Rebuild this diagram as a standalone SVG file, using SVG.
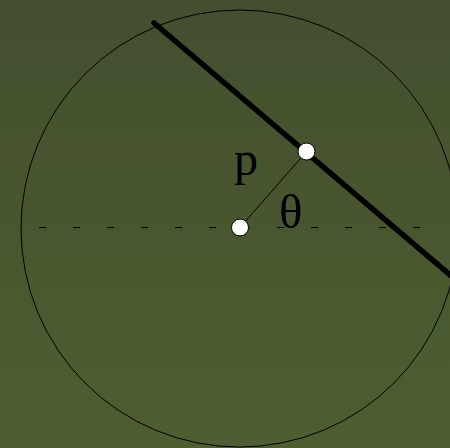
<svg xmlns="http://www.w3.org/2000/svg" width="450" height="448" viewBox="0 0 450 448">
<defs>
<linearGradient id="bg" x1="0" y1="0" x2="0" y2="1">
<stop offset="0" stop-color="#434f2e"/>
<stop offset="1" stop-color="#4e5e31"/>
</linearGradient>
<style>
.lbl{font-family:"Liberation Serif","Times New Roman",serif;fill:#000}
.pt{fill:#fff;stroke:#000;stroke-width:1}
</style>
</defs>
<rect width="450" height="448" fill="url(#bg)"/>
<g id="connectors" fill="none" stroke="#000">
<circle cx="239.5" cy="228.5" r="218.5" stroke-width="1"/>
<line x1="39" y1="227.5" x2="430" y2="227.5" stroke-width="1" stroke-dasharray="7 27"/>
<line x1="154" y1="23" x2="456" y2="280" stroke-width="5.5" stroke-linecap="round"/>
<line x1="240" y1="227.5" x2="306.5" y2="151.5" stroke-width="1"/>
</g>
<g id="center"><circle class="pt" cx="240" cy="227.5" r="8.5"/></g>
<g id="point"><circle class="pt" cx="306.5" cy="151.5" r="8.5"/></g>
<g id="label-p"><text class="lbl" x="234" y="175" font-size="48">p</text></g>
<g id="label-theta"><text class="lbl" x="279" y="228" font-size="49">θ</text></g>
</svg>
